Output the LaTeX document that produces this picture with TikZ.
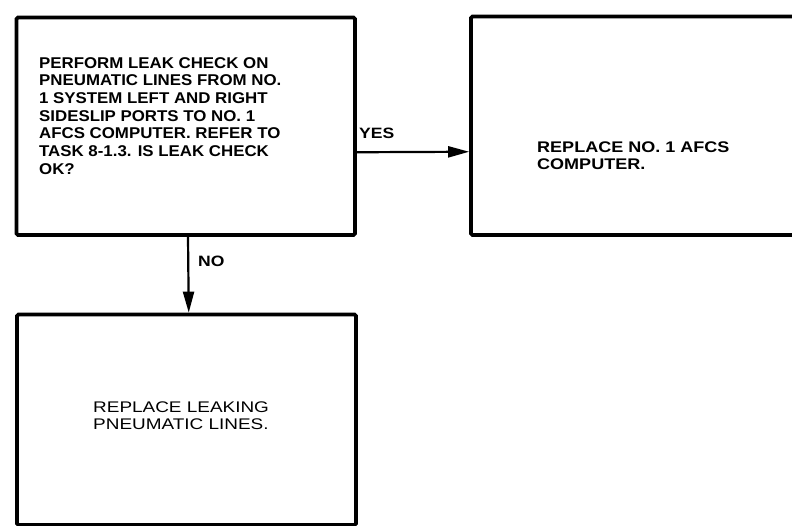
\documentclass[tikz,border=0pt]{standalone}
\usepackage{fontspec}
\setmainfont{Liberation Sans}
\newfontfamily\wideA[FakeStretch=1.08]{Liberation Sans}
\newfontfamily\wideB[FakeStretch=1.17]{Liberation Sans}
\newfontfamily\wideC[FakeStretch=1.23]{Liberation Sans}
\usetikzlibrary{arrows.meta}
\begin{document}
\begin{tikzpicture}[x=1pt,y=-1pt,
  box/.style={draw, line width=3.7pt, rounded corners=1.5pt, inner sep=0pt},
  txt/.style={align=left, inner sep=0pt},
  lab/.style={inner sep=0pt, font=\wideB\bfseries\fontsize{15}{16}\selectfont},
  arr/.style={line width=2.2pt, -{Triangle[length=21pt,width=11pt]}}]
\useasboundingbox (0,0) rectangle (792,526);
\node[box, minimum width=338.5pt, minimum height=217.5pt] (b1) at (185.75,126.25) {};
\node[box, minimum width=325pt, minimum height=218.5pt] (b2) at (633.5,125.75) {};
\node[box, minimum width=339pt, minimum height=210.5pt] (b3) at (186.5,419.75) {};
\node[txt, anchor=north west, font=\wideA\bfseries\fontsize{15.6}{17.7}\selectfont] (t1) at (39,57) {PERFORM LEAK CHECK ON\\PNEUMATIC LINES FROM NO.\\1 SYSTEM LEFT AND RIGHT\\SIDESLIP PORTS TO NO. 1\\AFCS COMPUTER. REFER TO\\TASK 8-1.3. IS LEAK CHECK\\OK?};
\node[txt, anchor=north west, font=\wideB\bfseries\fontsize{15.4}{17}\selectfont] (t2) at (537,142) {REPLACE NO. 1 AFCS\\COMPUTER.};
\node[txt, anchor=north west, font=\wideC\fontsize{15.4}{17}\selectfont] (t3) at (93,401.5) {REPLACE LEAKING\\PNEUMATIC LINES.};
\draw[arr] ([yshift=-26pt]b1.east) -- ([yshift=-26pt]b2.west);
\draw[arr] ([xshift=2.25pt]b1.south) -- ([xshift=2.25pt]b3.north);
\node[lab, anchor=west] (yes) at (359,133) {YES};
\node[lab, anchor=west] (no) at (198,261) {NO};
\end{tikzpicture}
\end{document}
